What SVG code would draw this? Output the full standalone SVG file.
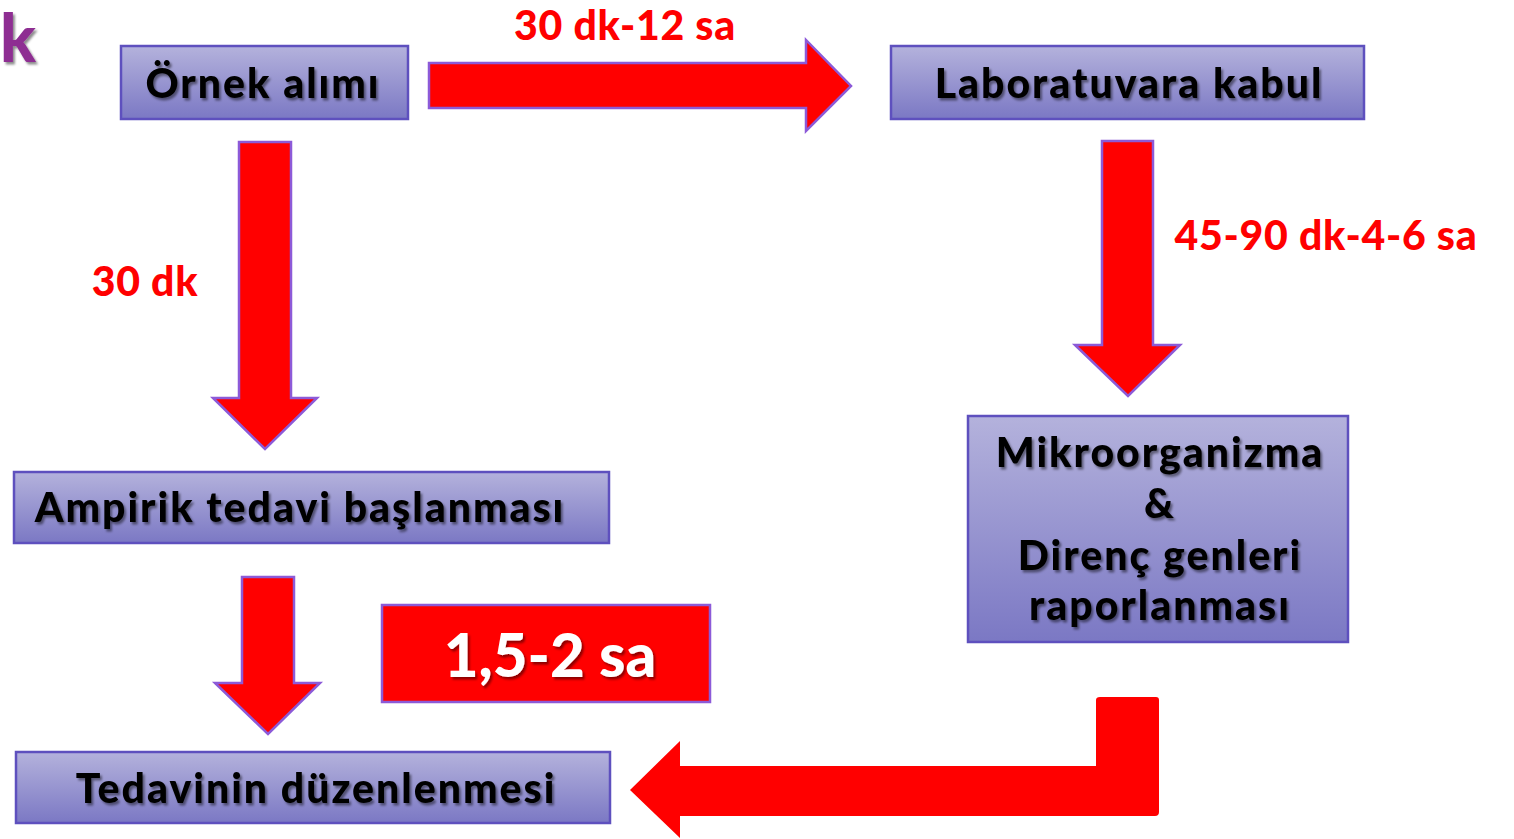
<svg xmlns="http://www.w3.org/2000/svg" width="1514" height="839" viewBox="0 0 1514 839">
<defs>
<linearGradient id="boxg" x1="0" y1="0" x2="0" y2="1">
<stop offset="0" stop-color="#B4B2DC"/>
<stop offset="1" stop-color="#7B78C4"/>
</linearGradient>
<filter id="sh" x="-10%" y="-20%" width="130%" height="160%">
<feDropShadow dx="2" dy="2.5" stdDeviation="1.2" flood-color="#000" flood-opacity="0.45"/>
</filter>
<style>
.box{fill:url(#boxg);stroke:#5E50BE;stroke-width:2.5}
.arr{fill:#FF0000;stroke:#8C5AD8;stroke-width:2.5;stroke-linejoin:miter}
.t{font-family:Lato,"Open Sans","DejaVu Sans",sans-serif;font-weight:900;font-size:41px;letter-spacing:2px;fill:#000;text-anchor:middle;filter:url(#sh)}
.r{font-family:Lato,"Open Sans","DejaVu Sans",sans-serif;font-weight:900;font-size:41px;letter-spacing:0.7px;fill:#FF0000;text-anchor:middle}
</style>
</defs>
<rect width="1514" height="839" fill="#fff"/>
<text x="0" y="62" font-family="Lato,'Open Sans',sans-serif" font-weight="900" font-size="66" fill="#8E2F92" filter="url(#sh)">k</text>

<g id="connectors">
<polygon class="arr" points="429,63 806,63 806,40 851,86 806,131 806,108 429,108"/>
<polygon class="arr" points="239,142 291,142 291,398 317,398 265,449 213,398 239,398"/>
<polygon class="arr" points="1102,141 1153,141 1153,345 1180,345 1128,396 1075,345 1102,345"/>
<polygon class="arr" points="242,577 294,577 294,683 320,683 268,734 215,683 242,683"/>
<path d="M1100,697 L1156,697 Q1159,697 1159,700 L1159,812 Q1159,816 1155,816 L680,816 L680,838 L630,790 L680,741 L680,766 L1096,766 L1096,700 Q1096,697 1100,697 Z" fill="#FF0000"/>
<text class="r" x="625" y="40">30 dk-12 sa</text>
<text class="r" x="145" y="296">30 dk</text>
<text class="r" x="1326" y="250">45-90 dk-4-6 sa</text>
</g>

<g id="n-ornek">
<rect class="box" x="121" y="46" width="287" height="73"/>
<text class="t" x="263" y="98">Örnek alımı</text>
</g>
<g id="n-lab">
<rect class="box" x="891" y="46" width="473" height="73"/>
<text class="t" x="1129" y="98">Laboratuvara kabul</text>
</g>
<g id="n-mikro">
<rect class="box" x="968" y="416" width="380" height="226"/>
<text class="t" x="1160" y="467">Mikroorganizma</text>
<text class="t" x="1160" y="518">&amp;</text>
<text class="t" x="1160" y="570">Direnç genleri</text>
<text class="t" x="1160" y="620">raporlanması</text>
</g>
<g id="n-ampirik">
<rect class="box" x="14" y="472" width="595" height="71"/>
<text class="t" x="300" y="522">Ampirik tedavi başlanması</text>
</g>
<g id="n-tedavi">
<rect class="box" x="16" y="752" width="594" height="71"/>
<text class="t" x="316" y="803">Tedavinin düzenlenmesi</text>
</g>
<g id="n-sure">
<rect x="382" y="605" width="328" height="97" fill="#FF0000" stroke="#8C5AD8" stroke-width="2.5"/>
<text x="550" y="677" font-size="60" text-anchor="middle" font-family="Lato,'Open Sans',sans-serif" font-weight="900" fill="#fff" filter="url(#sh)">1,5-2 sa</text>
</g>
</svg>
